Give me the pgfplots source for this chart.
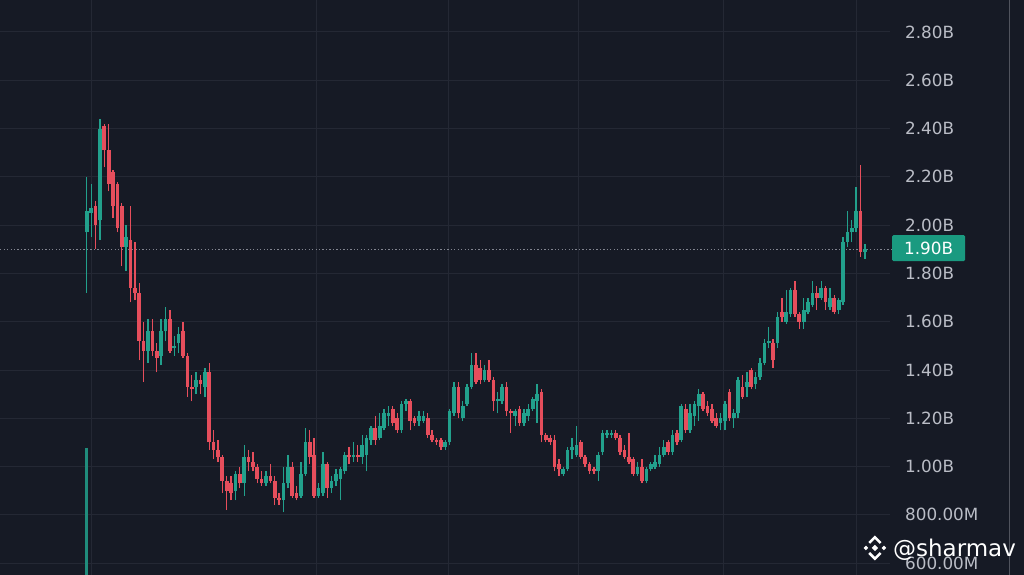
\documentclass[border=0pt]{standalone}
\usepackage{fontspec}
\setmainfont{DejaVu Sans}
\usepackage{pgfplots}
\pgfplotsset{compat=1.18}
\usepackage{pgfplotstable}
\definecolor{bg}{RGB}{22,26,37}
\definecolor{gridc}{RGB}{36,40,52}
\definecolor{upc}{RGB}{34,160,140}
\definecolor{downc}{RGB}{230,78,92}
\definecolor{labelc}{RGB}{26,154,128}
\definecolor{tickc}{RGB}{186,189,198}
\definecolor{dotc}{RGB}{130,133,144}

\pgfplotstableread{
i o h l c
1 1.97 2.20 1.72 2.06
2 2.05 2.17 1.95 2.07
4 2.02 2.44 1.94 2.40
10 1.91 2.00 1.81 1.95
15 1.48 1.61 1.43 1.56
18 1.46 1.61 1.42 1.56
19 1.56 1.66 1.52 1.61
21 1.49 1.54 1.46 1.50
22 1.51 1.58 1.47 1.55
26 1.33 1.39 1.30 1.36
28 1.33 1.41 1.29 1.39
35 0.90 0.98 0.86 0.97
37 0.93 1.09 0.88 1.04
42 0.93 0.98 0.92 0.96
46 0.86 1.00 0.81 0.93
47 0.93 1.05 0.91 1.00
50 0.88 1.02 0.87 0.97
51 0.97 1.16 0.96 1.10
54 0.88 0.93 0.87 0.91
55 0.89 1.06 0.88 1.01
57 0.91 0.96 0.89 0.94
58 0.94 0.99 0.92 0.97
59 0.95 1.00 0.86 0.99
60 0.98 1.06 0.97 1.05
62 1.04 1.10 1.02 1.05
64 1.04 1.13 1.01 1.09
65 1.05 1.13 0.98 1.12
66 1.11 1.17 1.09 1.16
68 1.12 1.22 1.11 1.17
69 1.16 1.24 1.15 1.22
70 1.21 1.25 1.17 1.22
73 1.15 1.27 1.14 1.26
74 1.26 1.28 1.23 1.27
77 1.19 1.23 1.17 1.21
78 1.19 1.23 1.18 1.21
83 1.08 1.11 1.07 1.10
84 1.10 1.24 1.09 1.23
85 1.22 1.35 1.21 1.33
87 1.20 1.27 1.19 1.25
88 1.26 1.34 1.25 1.33
89 1.33 1.47 1.32 1.42
92 1.36 1.42 1.35 1.40
95 1.27 1.31 1.22 1.28
96 1.27 1.34 1.26 1.33
99 1.21 1.24 1.17 1.23
101 1.18 1.24 1.17 1.22
102 1.21 1.26 1.19 1.24
103 1.24 1.29 1.23 1.28
104 1.27 1.34 1.18 1.30
110 0.97 1.00 0.96 0.99
111 0.99 1.08 0.98 1.07
112 1.07 1.12 1.03 1.08
113 1.05 1.17 1.04 1.09
118 0.98 1.06 0.94 1.05
119 1.06 1.15 1.05 1.14
120 1.13 1.15 1.12 1.14
121 1.13 1.15 1.12 1.14
127 0.97 1.02 0.96 1.00
129 0.94 1.00 0.93 0.99
130 0.99 1.02 0.98 1.01
131 1.00 1.05 0.99 1.02
132 1.01 1.08 1.00 1.05
133 1.05 1.11 1.04 1.08
135 1.06 1.15 1.05 1.13
137 1.11 1.26 1.10 1.25
139 1.15 1.26 1.14 1.22
140 1.21 1.27 1.17 1.26
141 1.25 1.32 1.19 1.30
146 1.18 1.22 1.15 1.20
147 1.19 1.27 1.15 1.26
149 1.20 1.24 1.16 1.22
150 1.22 1.37 1.20 1.36
152 1.33 1.39 1.29 1.35
154 1.34 1.39 1.32 1.37
155 1.37 1.45 1.36 1.43
156 1.43 1.53 1.42 1.51
157 1.51 1.58 1.49 1.52
159 1.51 1.64 1.49 1.62
161 1.60 1.73 1.59 1.64
162 1.63 1.74 1.62 1.73
165 1.60 1.70 1.57 1.65
166 1.64 1.70 1.63 1.68
167 1.67 1.77 1.66 1.72
169 1.70 1.77 1.69 1.74
171 1.66 1.74 1.65 1.70
173 1.65 1.70 1.63 1.69
174 1.68 1.95 1.67 1.93
175 1.93 2.06 1.91 1.97
176 1.97 2.02 1.93 1.99
177 1.99 2.16 1.97 2.06
179 1.89 1.92 1.86 1.90
}\upcandles

\pgfplotstableread{
i o h l c
3 2.08 2.10 1.90 2.00
5 2.41 2.42 2.24 2.31
6 2.31 2.42 2.14 2.17
7 2.22 2.23 2.03 2.08
8 2.17 2.18 1.97 1.99
9 2.08 2.09 1.83 1.91
11 1.94 2.08 1.68 1.74
12 1.74 1.93 1.69 1.72
13 1.72 1.76 1.44 1.52
14 1.52 1.60 1.35 1.48
16 1.56 1.61 1.46 1.48
17 1.48 1.51 1.39 1.45
20 1.61 1.65 1.47 1.48
23 1.56 1.60 1.45 1.46
24 1.46 1.47 1.29 1.33
25 1.33 1.38 1.27 1.32
27 1.36 1.38 1.30 1.34
29 1.39 1.43 1.07 1.10
30 1.10 1.15 1.03 1.07
31 1.07 1.11 1.02 1.04
32 1.04 1.05 0.89 0.94
33 0.94 0.96 0.82 0.90
34 0.93 0.96 0.86 0.89
36 0.97 1.00 0.91 0.93
38 1.04 1.07 0.98 1.02
39 1.02 1.06 0.98 1.00
40 1.00 1.01 0.93 0.95
41 0.95 0.98 0.92 0.93
43 0.96 1.01 0.93 0.94
44 0.94 0.96 0.84 0.87
45 0.87 0.89 0.84 0.86
48 1.00 1.02 0.87 0.88
49 0.89 0.92 0.86 0.87
52 1.10 1.15 1.01 1.04
53 1.05 1.12 0.87 0.88
56 1.01 1.02 0.87 0.91
61 1.05 1.08 1.01 1.04
63 1.05 1.09 1.02 1.04
67 1.16 1.21 1.09 1.11
71 1.24 1.25 1.17 1.18
72 1.20 1.22 1.14 1.15
75 1.27 1.28 1.15 1.19
76 1.20 1.21 1.17 1.18
79 1.20 1.22 1.12 1.13
80 1.13 1.15 1.10 1.11
81 1.11 1.12 1.09 1.10
82 1.11 1.12 1.07 1.08
86 1.33 1.35 1.20 1.22
90 1.42 1.47 1.34 1.35
91 1.41 1.44 1.34 1.36
93 1.40 1.44 1.35 1.36
94 1.36 1.37 1.23 1.27
97 1.33 1.35 1.21 1.23
98 1.23 1.24 1.14 1.22
100 1.24 1.25 1.17 1.18
105 1.31 1.32 1.10 1.13
106 1.13 1.14 1.10 1.11
107 1.12 1.13 1.09 1.10
108 1.11 1.13 0.98 1.00
109 1.01 1.03 0.96 0.99
114 1.10 1.11 1.03 1.04
115 1.04 1.05 1.00 1.01
116 1.01 1.02 0.97 0.98
117 0.99 1.00 0.97 0.98
122 1.14 1.15 1.11 1.12
123 1.12 1.13 1.05 1.06
124 1.07 1.09 1.03 1.04
125 1.04 1.14 1.01 1.02
126 1.03 1.04 0.96 0.97
128 1.00 1.03 0.93 0.94
134 1.10 1.11 1.05 1.06
136 1.14 1.15 1.09 1.10
138 1.24 1.26 1.14 1.15
142 1.30 1.31 1.23 1.24
143 1.25 1.27 1.21 1.22
144 1.24 1.26 1.18 1.19
145 1.20 1.22 1.16 1.17
148 1.31 1.32 1.19 1.20
151 1.33 1.38 1.28 1.29
153 1.40 1.41 1.32 1.33
158 1.51 1.53 1.41 1.44
160 1.64 1.70 1.60 1.62
163 1.73 1.77 1.62 1.63
164 1.63 1.64 1.57 1.60
168 1.72 1.75 1.65 1.70
170 1.74 1.75 1.65 1.68
172 1.70 1.71 1.63 1.64
178 2.06 2.25 1.87 1.89
}\downcandles

\begin{document}
\begin{tikzpicture}
\begin{axis}[
  scale only axis, width=768pt, height=431.25pt,
  xmin=-18.83, xmax=215.37, ymin=0.5516, ymax=2.9325,
  axis line style={draw=none},
  axis background/.style={fill=bg},
  xtick=\empty,
  ytick={0.6,0.8,1.0,1.2,1.4,1.6,1.8,2.0,2.2,2.4,2.6,2.8},
  yticklabels={600.00M,800.00M,1.00B,1.20B,1.40B,1.60B,1.80B,2.00B,2.20B,2.40B,2.60B,2.80B},
  major tick length=0pt,
  yticklabel style={anchor=west, xshift=678.75pt, inner sep=0pt, text=tickc, font=\fontsize{12.6}{14}\selectfont},
]
\pgfplotsinvokeforeach{0.6,0.8,1.0,1.2,1.4,1.6,1.8,2.0,2.2,2.4,2.6,2.8}{
  \draw[gridc, line width=0.75pt] (axis cs:-18.83,#1) -- (axis cs:184.72,#1);
}
\pgfplotsinvokeforeach{1.98,53.44,83.63,113.59,146.75,177.17}{
  \draw[gridc, line width=0.75pt] (axis cs:#1,0.5516) -- (axis cs:#1,2.9325);
}
\draw[gridc!80!white, line width=0.75pt] (axis cs:212.16,0.5516) -- (axis cs:212.16,2.9325);

% volume-like bar at left
\addplot[upc!85!bg, line width=2.2pt] coordinates {(1,1.077) (1,0.5516)};

% price line
\addplot[dotc, line width=1pt, dash pattern=on 1pt off 1.6pt] coordinates {(-18.83,1.90) (185.2,1.90)};

% candles: wicks
\addplot[quiver={u=0, v=\thisrow{h}-\thisrow{l}}, draw=upc, line width=1pt] table[x=i, y=l] {\upcandles};
\addplot[quiver={u=0, v=\thisrow{h}-\thisrow{l}}, draw=downc, line width=1pt] table[x=i, y=l] {\downcandles};
% candles: bodies
\addplot[quiver={u=0, v=\thisrow{c}-\thisrow{o}}, draw=upc, line width=2.75pt] table[x=i, y=o] {\upcandles};
\addplot[quiver={u=0, v=\thisrow{o}-\thisrow{c}}, draw=downc, line width=2.75pt] table[x=i, y=c] {\downcandles};

\node[fill=labelc, anchor=west, minimum width=54.75pt, minimum height=19.5pt, inner sep=0pt, rounded corners=1pt, text=white, font=\fontsize{12.6}{14}\selectfont] at (axis cs:185.17,1.905) {1.90B};

\node[anchor=base west, inner sep=0pt, text=white, font=\fontsize{17.25}{20}\selectfont] at (axis cs:185.4,0.626) {@sharmav};
\coordinate (logo) at (axis cs:181.29,0.663);
\end{axis}
\begin{scope}[shift={(logo)}, x=0.75pt, y=0.75pt]
  \fill[white] (0,-3.2) -- (3.2,0) -- (0,3.2) -- (-3.2,0) -- cycle;
  \fill[white] (-9,-2.3) -- (-6.7,0) -- (-9,2.3) -- (-11.3,0) -- cycle;
  \fill[white] (9,-2.3) -- (11.3,0) -- (9,2.3) -- (6.7,0) -- cycle;
  \fill[white] (0,12.5) -- (6.6,5.9) -- (4.8,4.1) -- (0,8.9) -- (-4.8,4.1) -- (-6.6,5.9) -- cycle;
  \fill[white] (0,-12.5) -- (6.6,-5.9) -- (4.8,-4.1) -- (0,-8.9) -- (-4.8,-4.1) -- (-6.6,-5.9) -- cycle;
\end{scope}
\end{tikzpicture}
\end{document}
